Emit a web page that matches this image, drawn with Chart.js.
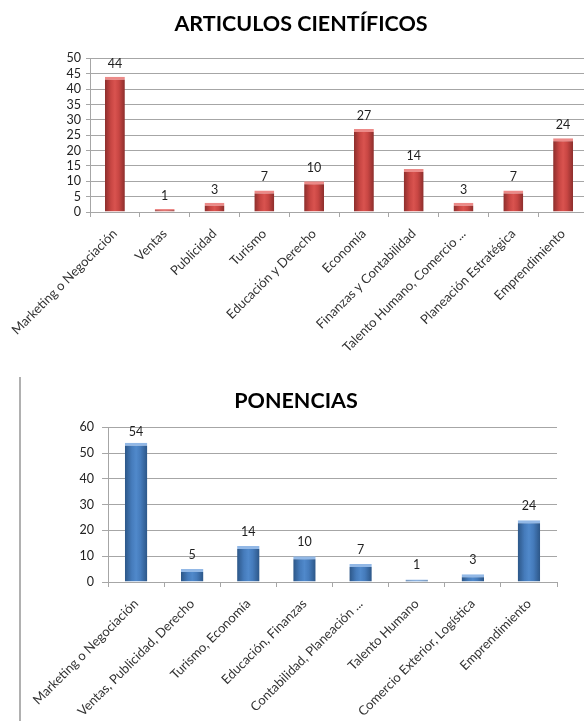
<!DOCTYPE html>
<html>
<head>
<meta charset="utf-8">
<script src="https://cdn.jsdelivr.net/npm/chart.js@4/dist/chart.umd.min.js"></script>
<style>
  html, body { margin: 0; padding: 0; background: #fff; overflow: hidden; width: 584px; height: 721px; }
  #articulos { position: absolute; left: 0; top: 0; }
  #frame { position: absolute; left: 19px; top: 377px; width: 560px; height: 360px; border-left: 2px solid #b0b0b0; }
  #ponencias { position: absolute; left: 21px; top: 377px; }
</style>
</head>
<body>
<canvas id="articulos" width="602" height="352"></canvas>
<div id="frame"></div>
<canvas id="ponencias" width="551" height="344"></canvas>
<script>
const articulosLabels = [
  "Marketing o Negociación", "Ventas", "Publicidad", "Turismo", "Educación y Derecho",
  "Economía", "Finanzas y Contabilidad", "Talento Humano, Comercio ...", "Planeación Estratégica", "Emprendimiento"
];
const articulosValues = [44, 1, 3, 7, 10, 27, 14, 3, 7, 24];

const ponenciasLabels = [
  "Marketing o Negociación", "Ventas, Publicidad, Derecho", "Turismo, Economía", "Educación, Finanzas",
  "Contabilidad, Planeación ...", "Talento Humano", "Comercio Exterior, Logística", "Emprendimiento"
];
const ponenciasValues = [54, 5, 14, 10, 7, 1, 3, 24];

const FONT = "Lato, 'Open Sans', sans-serif";
const gridColor = "#a6a6a6";

// bar fill: shaded cylinder look, built from the bar's own scale position
function barGradient(stops) {
  return (ctx) => {
    const chart = ctx.chart;
    const xScale = chart.scales.x;
    if (!chart.chartArea || !xScale || ctx.dataIndex === undefined) return stops[2];
    const cx = xScale.getPixelForValue(ctx.dataIndex);
    const half = (xScale.width / chart.data.labels.length) * 0.4 / 2;
    const g = chart.ctx.createLinearGradient(cx - half, 0, cx + half, 0);
    g.addColorStop(0, stops[0]);
    g.addColorStop(0.3, stops[1]);
    g.addColorStop(0.5, stops[2]);
    g.addColorStop(0.7, stops[1]);
    g.addColorStop(1, stops[0]);
    return g;
  };
}

const valueLabels = {
  id: "valueLabels",
  afterDatasetsDraw(chart, args, opts) {
    const ctx = chart.ctx;
    const meta = chart.getDatasetMeta(0);
    const values = chart.data.datasets[0].data;
    ctx.save();
    ctx.font = "12.5px " + FONT;
    ctx.fillStyle = "#1f1f1f";
    ctx.textAlign = "center";
    ctx.textBaseline = "alphabetic";
    meta.data.forEach((bar, i) => {
      const y = Math.max(bar.y - opts.gap, chart.chartArea.top + 9);
      ctx.fillText(values[i], bar.x, y);
    });
    ctx.restore();
  }
};

function makeChart(id, cfg) {
  return new Chart(document.getElementById(id), {
    type: "bar",
    data: {
      labels: cfg.labels,
      datasets: [{
        data: cfg.values,
        backgroundColor: barGradient(cfg.stops),
        borderColor: cfg.cap,
        borderWidth: { top: 3, left: 0, right: 0, bottom: 0 },
        borderSkipped: "bottom",
        categoryPercentage: 1,
        barPercentage: 0.4
      }]
    },
    options: {
      responsive: false,
      animation: false,
      layout: { padding: { left: 14, right: cfg.padRight, top: 0, bottom: 0 } },
      plugins: {
        legend: { display: false },
        tooltip: { enabled: false },
        title: {
          display: true,
          text: cfg.title,
          color: "#000",
          font: { family: FONT, size: 21.5, weight: "bold" },
          padding: { top: 11, bottom: cfg.titleGap }
        },
        valueLabels: { gap: cfg.labelGap }
      },
      scales: {
        x: {
          grid: { display: true, drawOnChartArea: false, offset: true, tickLength: 5, color: gridColor },
          border: { display: true, color: gridColor },
          ticks: {
            autoSkip: false, minRotation: 45, maxRotation: 45, padding: cfg.xPad,
            color: "#333", font: { family: FONT, size: 13 }
          },
          afterFit: (s) => { s.height = cfg.xHeight; }
        },
        y: {
          min: 0, max: cfg.max,
          grid: { color: gridColor, tickLength: cfg.yTick },
          border: { display: true, color: gridColor },
          ticks: {
            autoSkip: false, stepSize: cfg.step, padding: cfg.yPad,
            color: "#222", font: { family: FONT, size: 12.5 }
          },
          afterFit: (s) => { s.width = cfg.yWidth; }
        }
      }
    },
    plugins: [valueLabels]
  });
}

makeChart("articulos", {
  title: "ARTICULOS CIENTÍFICOS",
  labels: articulosLabels, values: articulosValues,
  stops: ["#8c2e2c", "#c84643", "#d9534f"], cap: "#ec8a88",
  max: 50, step: 5, yWidth: 76, yTick: 4, yPad: 5,
  xHeight: 140, xPad: 9, padRight: 14, titleGap: 21.6, labelGap: 9
});

makeChart("ponencias", {
  title: "PONENCIAS",
  labels: ponenciasLabels, values: ponenciasValues,
  stops: ["#2c5687", "#457bbb", "#5089cb"], cap: "#92b8e6",
  max: 60, step: 10, yWidth: 71, yTick: 6, yPad: 8,
  xHeight: 139, xPad: 9, padRight: 15, titleGap: 13.6, labelGap: 10
});
</script>
</body>
</html>
